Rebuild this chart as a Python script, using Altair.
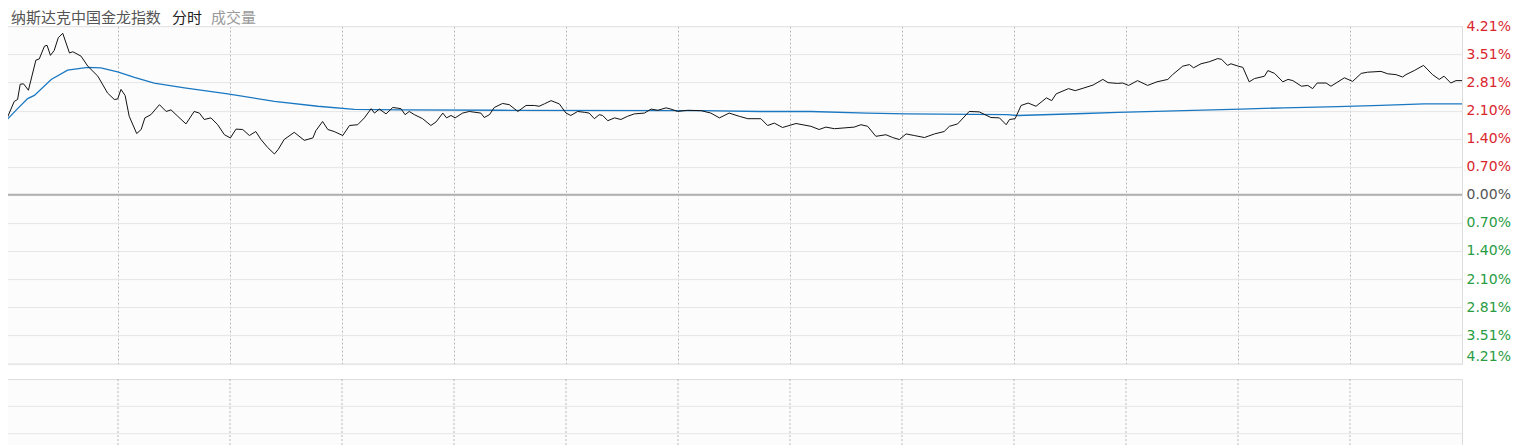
import altair as alt
import pandas as pd

# minutes since the open (0..390) and % change of the index (black line)
price_t = [0, 2.2, 3.1, 3.8, 4.7, 6.0, 8.0, 8.9, 10.3, 11.0,
           11.9, 12.9, 14.0, 15.2, 17.0, 17.9, 20.1, 21.9, 24.6, 27.2,
           29.0, 29.9, 30.8, 31.9, 33.0, 35.0, 36.2, 37.2, 38.8, 41.1,
           42.9, 44.2, 46.0, 48.2, 50.4, 51.8, 53.1, 54.9, 56.7, 58.5,
           60.1, 61.6, 63.4, 65.2, 66.9, 68.3, 70.1, 71.9, 72.9, 74.5,
           77.2, 79.9, 82.2, 83.0, 84.8, 86.2, 87.9, 90.2, 92.0, 94.2,
           96.0, 97.8, 98.7, 100.0, 101.8, 103.6, 105.8, 106.9, 108.0, 109.4,
           111.6, 113.8, 115.2, 117.0, 118.0, 119.2, 120.3, 122.3, 124.1, 127.2,
           128.1, 129.5, 130.8, 133.0, 134.8, 137.1, 139.3, 141.5, 142.8, 144.2,
           146.0, 148.2, 150.0, 151.3, 153.1, 154.9, 156.2, 157.6, 158.9, 159.8,
           161.2, 163.0, 164.7, 166.5, 168.3, 171.0, 172.8, 174.6, 176.8, 178.1,
           179.9, 182.6, 186.2, 188.8, 191.1, 193.7, 196.4, 198.7, 202.2, 204.0,
           205.8, 208.0, 211.6, 215.6, 217.8, 219.6, 221.9, 224.5, 227.2, 229.0,
           230.8, 233.0, 235.7, 237.5, 239.3, 241.1, 243.3, 246.0, 248.7, 251.3,
           252.7, 254.9, 258.0, 260.7, 263.8, 266.1, 267.9, 268.8, 270.3, 271.9,
           273.8, 275.9, 278.7, 280.1, 281.3, 284.6, 286.4, 288.5, 291.2, 293.8,
           295.2, 297.7, 299.1, 300.7, 303.1, 305.8, 308.3, 311.2, 312.5, 315.2,
           317.0, 318.1, 320.1, 322.3, 324.6, 325.6, 327.2, 328.1, 330.1, 331.3,
           333.0, 334.4, 337.1, 338.0, 339.8, 342.0, 343.4, 344.7, 347.0, 348.7,
           350.0, 351.2, 353.6, 354.9, 358.5, 360.7, 363.0, 364.7, 368.3, 370.1,
           372.3, 374.1, 375.0, 377.2, 379.7, 382.1, 383.9, 385.2, 387.0, 388.4,
           390]
price_v = [1.85, 2.33, 2.38, 2.76, 2.77, 2.61, 3.36, 3.39, 3.71, 3.73,
           3.48, 3.60, 3.92, 4.03, 3.54, 3.57, 3.46, 3.21, 2.96, 2.54,
           2.38, 2.39, 2.63, 2.48, 1.96, 1.53, 1.63, 1.92, 2.00, 2.25,
           2.08, 2.12, 1.96, 1.77, 2.08, 2.04, 1.88, 1.92, 1.75, 1.50,
           1.42, 1.64, 1.63, 1.48, 1.58, 1.38, 1.18, 1.02, 1.13, 1.38,
           1.56, 1.36, 1.42, 1.60, 1.83, 1.63, 1.58, 1.48, 1.73, 1.75,
           1.92, 2.15, 2.04, 2.14, 2.02, 2.18, 2.15, 2.00, 2.08, 2.00,
           1.90, 1.73, 1.82, 2.04, 1.92, 1.98, 1.92, 2.04, 2.08, 2.04,
           1.93, 2.00, 2.18, 2.28, 2.25, 2.08, 2.23, 2.23, 2.21, 2.27,
           2.35, 2.27, 2.04, 1.98, 2.08, 2.06, 2.04, 1.90, 2.00, 1.98,
           1.85, 1.92, 1.88, 1.96, 2.02, 2.04, 2.14, 2.11, 2.17, 2.14,
           2.08, 2.11, 2.10, 2.04, 1.92, 2.04, 1.96, 1.90, 1.90, 1.73,
           1.79, 1.68, 1.78, 1.71, 1.63, 1.69, 1.65, 1.67, 1.69, 1.75,
           1.71, 1.46, 1.50, 1.43, 1.38, 1.52, 1.48, 1.43, 1.52, 1.58,
           1.71, 1.77, 2.08, 2.07, 1.93, 1.92, 1.75, 1.88, 1.90, 2.23,
           2.29, 2.21, 2.42, 2.35, 2.52, 2.65, 2.60, 2.66, 2.74, 2.88,
           2.80, 2.78, 2.79, 2.73, 2.85, 2.73, 2.82, 2.88, 3.00, 3.21,
           3.25, 3.17, 3.27, 3.32, 3.40, 3.38, 3.23, 3.27, 3.21, 3.18,
           2.82, 2.90, 2.96, 3.10, 3.03, 2.82, 2.88, 2.85, 2.71, 2.73,
           2.65, 2.79, 2.79, 2.71, 2.92, 2.83, 3.03, 3.06, 3.08, 3.02,
           3.00, 2.94, 3.00, 3.10, 3.23, 3.00, 2.88, 2.96, 2.79, 2.85,
           2.85]

# average price line (blue), % change
avg_t = [0, 3.1, 5.8, 7.6, 12.1, 16.5, 21.9, 25.4, 29.9, 34.4,
         39.7, 47.8, 59.4, 71.9, 83.5, 93.3, 105.8, 132.6, 186.2, 202.2,
         215.6, 230.6, 241.3, 268.1, 271.1, 288.8, 297.9, 315.5, 330.8, 342.3,
         356.7, 368.3, 379.8, 390]
avg_v = [1.85, 2.15, 2.40, 2.48, 2.88, 3.11, 3.18, 3.17, 3.07, 2.93,
         2.79, 2.67, 2.52, 2.33, 2.21, 2.13, 2.12, 2.11, 2.10, 2.08,
         2.08, 2.04, 2.02, 2.00, 1.98, 2.03, 2.06, 2.10, 2.14, 2.17,
         2.20, 2.23, 2.27, 2.27]

y_ticks = [4.21, 3.51, 2.81, 2.10, 1.40, 0.70, 0.00,
           -0.70, -1.40, -2.10, -2.81, -3.51, -4.21]
x_ticks = [30, 60, 90, 120, 150, 180, 210, 240, 270, 300, 330, 360]
vol_grid = [1, 2]
header = ["纳斯达克中国金龙指数", "分时", "成交量"]

W = 1456
H_MAIN = 337.5
H_VOL = 82
RED = "#d9262e"
GREEN = "#2a9c44"
GRAY = "#555555"
BLUE = "#1a78c2"
BLACK = "#111111"

price_df = pd.DataFrame({"t": price_t, "v": price_v})
avg_df = pd.DataFrame({"t": avg_t, "v": avg_v})

x_scale = alt.Scale(domain=[0, 390], nice=False, zero=False)
y_scale = alt.Scale(domain=[-4.21, 4.21], nice=False, zero=False)

x_axis = alt.Axis(values=x_ticks, grid=True, gridDash=[2, 2], gridColor="#b8b8b8",
                  labels=False, ticks=False, domain=False, title=None)
y_axis = alt.Axis(
    orient="right", values=y_ticks, grid=True, gridColor="#e6e6e6",
    ticks=False, domain=False, title=None, labelPadding=4,
    labelFont="DejaVu Sans", labelFontSize=14, labelOverlap=False,
    labelExpr="format(abs(datum.value), '.2f') + '%'",
    labelColor={"condition": [{"test": "datum.value > 0.001", "value": RED},
                              {"test": "datum.value < -0.001", "value": GREEN}],
                "value": GRAY},
    labelBaseline={"condition": {"test": "datum.value < -4", "value": "bottom"},
                   "value": "middle"},
)

zero = alt.Chart(pd.DataFrame({"v": [0.0]})).mark_rule(
    color="#b0b0b0", strokeWidth=2
).encode(y=alt.Y("v:Q", scale=y_scale, axis=y_axis))

avg_line = alt.Chart(avg_df).mark_line(strokeWidth=1.3, color=BLUE).encode(
    x=alt.X("t:Q", scale=x_scale, axis=x_axis),
    y=alt.Y("v:Q", scale=y_scale, axis=y_axis),
)
price_line = alt.Chart(price_df).mark_line(strokeWidth=1, color=BLACK).encode(
    x=alt.X("t:Q", scale=x_scale, axis=x_axis),
    y=alt.Y("v:Q", scale=y_scale, axis=y_axis),
)

def head(text, x, color):
    return alt.Chart(pd.DataFrame({"label": [text]})).mark_text(
        align="left", baseline="top", font="DejaVu Sans, Noto Sans CJK SC",
        fontSize=15, color=color
    ).encode(x=alt.value(x), y=alt.value(-14.6), text="label:N")

main = alt.layer(
    zero, avg_line, price_line,
    head(header[0], 5, "#555555"),
    head(header[1], 166, "#222222"),
    head(header[2], 205, "#999999"),
).properties(width=W, height=H_MAIN)

vol_v = alt.Chart(pd.DataFrame({"t": x_ticks})).mark_rule(
    color="#b8b8b8", strokeDash=[2, 2]
).encode(x=alt.X("t:Q", scale=x_scale, axis=None))
vol_h = alt.Chart(pd.DataFrame({"g": vol_grid})).mark_rule(color="#e6e6e6").encode(
    y=alt.Y("g:Q", scale=alt.Scale(domain=[0, 3], nice=False), axis=None)
)
vol = alt.layer(vol_v, vol_h).properties(width=W, height=H_VOL)

chart = alt.vconcat(main, vol, spacing=14).properties(
    padding={"left": -6, "top": 2.1, "right": 5, "bottom": 0},
    background="#ffffff",
).configure_view(stroke="#dcdcdc", fill="#fcfcfc")

chart.save("out.html", embed_options={"renderer": "svg", "actions": False})
